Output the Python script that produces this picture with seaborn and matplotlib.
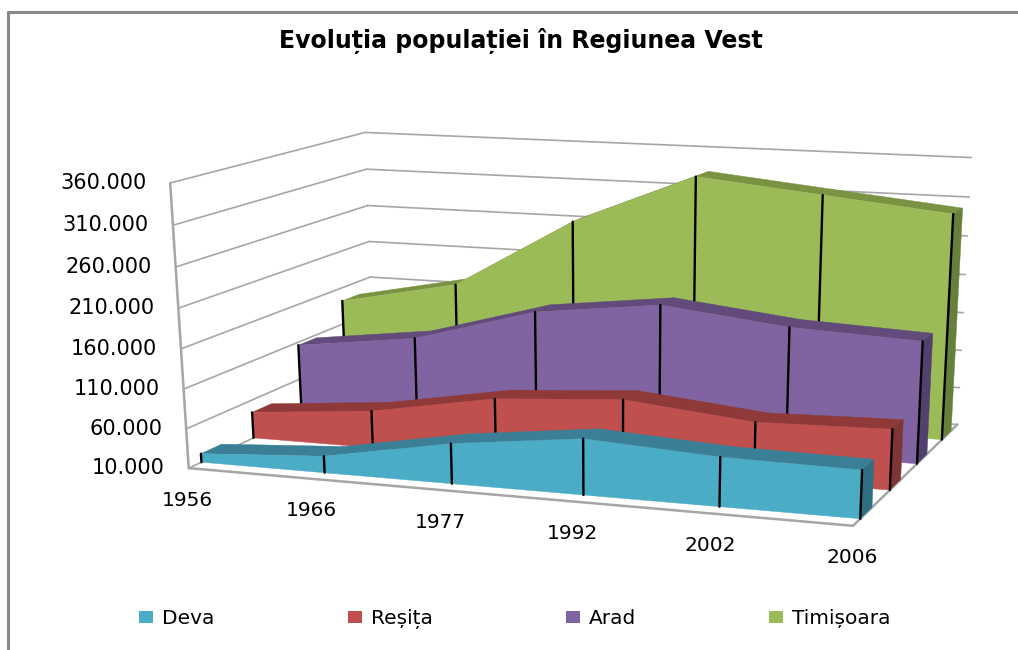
import numpy as np
import matplotlib
matplotlib.use("Agg")
import matplotlib.pyplot as plt
from matplotlib.patches import Patch
import seaborn as sns

years = ["1956", "1966", "1977", "1992", "2002", "2006"]
cities = ["Deva", "Reșița", "Arad", "Timișoara"]
deva = [21000, 31000, 60000, 79000, 70000, 68000]
resita = [44000, 58000, 86000, 97000, 81000, 85000]
arad = [106000, 126000, 171000, 190000, 172000, 165000]
timisoara = [142000, 174000, 267000, 333000, 317000, 301000]
series = [deva, resita, arad, timisoara]
y_ticks = [10000, 60000, 110000, 160000, 210000, 260000, 310000, 360000]

face_colors = ["#4BACC6", "#C0504D", "#8064A2", "#9BBB59"]
top_colors = ["#3A7F96", "#8F3A38", "#624A7A", "#7A9343"]
side_colors = ["#2F6F83", "#7F3533", "#52416E", "#667F3A"]
slab_front = [0.06, 0.318, 0.575, 0.83]
slab_depth = 0.10
grid_color = "#a6a6a6"

# camera fitted on the corners of the chart box, (u, depth, value) -> pixels
box_uvw = [(0, 0, 0), (0, 0, 1), (0, 1, 1), (0, 1, 0), (1, 0, 0), (1, 1, 0), (1, 1, 1)]
box_px = [(187, 467), (172, 183), (363, 132), (376, 383), (853, 527), (957, 423), (972, 158)]

rows = []
rhs = []
for (a, b, c), (px, py) in zip(box_uvw, box_px):
    rows.append([a, b, c, 1, 0, 0, 0, 0, -px * a, -px * b, -px * c])
    rhs.append(px)
    rows.append([0, 0, 0, 0, a, b, c, 1, -py * a, -py * b, -py * c])
    rhs.append(py)
cam = np.linalg.lstsq(np.array(rows, float), np.array(rhs, float), rcond=None)[0]
cam = np.append(cam, 1).reshape(3, 4)


def project(u, d, v):
    w = cam @ np.array([u, d, v, 1.0])
    return w[0] / w[2], w[1] / w[2]


def val(x):
    return (x - y_ticks[0]) / (y_ticks[-1] - y_ticks[0])


def line3d(ax, a, b, z, color=grid_color, lw=1.2):
    pts = np.array([project(*a), project(*b)])
    sns.lineplot(x=pts[:, 0], y=pts[:, 1], sort=False, estimator=None, color=color,
                 linewidth=lw, ax=ax, zorder=z)


sns.set_theme(style="white")
plt.rcParams["font.family"] = ["DejaVu Sans"]

fig = plt.figure(figsize=(10.18, 6.5), dpi=100)
ax = fig.add_axes([0, 0, 1, 1])
ax.set_xlim(0, 1018)
ax.set_ylim(650, 0)
ax.axis("off")

# walls and floor
for t in y_ticks:
    line3d(ax, (0, 0, val(t)), (0, 1, val(t)), 1)
    line3d(ax, (0, 1, val(t)), (1, 1, val(t)), 1)
    x, y = project(0, 0, val(t))
    ax.text(x - 24, y, f"{t:,}".replace(",", "."), ha="right", va="center", fontsize=15, color="black")
line3d(ax, (0, 0, 0), (0, 0, 1), 1, lw=1.8)
line3d(ax, (0, 0, 0), (1, 0, 0), 1, lw=1.8)
line3d(ax, (1, 0, 0), (1, 1, 0), 1, lw=1.8)

n = len(years)
us = [i / (n - 1) for i in range(n)]
for i, year in enumerate(years):
    x, y = project(us[i], 0, 0)
    ax.text(x - 1, y + 32, year, ha="center", va="center", fontsize=14.5, color="black")

# slabs, back to front
z = 2
for s in range(3, -1, -1):
    vals = [val(v) for v in series[s]]
    d0 = slab_front[s]
    d1 = d0 + slab_depth
    for i in range(n - 1):
        top = [project(us[i], d0, vals[i]), project(us[i + 1], d0, vals[i + 1]),
               project(us[i + 1], d1, vals[i + 1]), project(us[i], d1, vals[i])]
        ax.fill(*zip(*top), color=top_colors[s], lw=0.3, zorder=z)
    side = [project(1, d0, 0), project(1, d1, 0), project(1, d1, vals[-1]), project(1, d0, vals[-1])]
    ax.fill(*zip(*side), color=side_colors[s], lw=0.3, zorder=z + 1)
    front = [project(us[i], d0, 0) for i in range(n)][::-1] + [project(us[i], d0, vals[i]) for i in range(n)]
    ax.fill(*zip(*front), color=face_colors[s], lw=0.3, zorder=z + 2)
    for i in range(n):
        line3d(ax, (us[i], d0, 0), (us[i], d0, vals[i]), z + 3, color="black", lw=1.7)
    z += 4

ax.text(521, 41, "Evoluția populației în Regiunea Vest", ha="center", va="center",
        fontsize=17, fontweight="bold", color="black")

handles = [Patch(facecolor=c, edgecolor="none") for c in face_colors]
ax.legend(handles, cities, ncol=4, loc="center", bbox_to_anchor=(515 / 1018, 1 - 619 / 650),
          frameon=False, fontsize=14.5, columnspacing=6.6, handlelength=0.7, handleheight=0.5,
          handletextpad=0.45, borderpad=0, borderaxespad=0, labelcolor="black")

# gray frame of the picture, left and top
ax.plot([8.5, 8.5], [12, 650], color="#888888", lw=2.2, zorder=1)
ax.plot([8.5, 1018], [12, 12], color="#888888", lw=2.2, zorder=1)

fig.savefig("out.png", dpi=100)
